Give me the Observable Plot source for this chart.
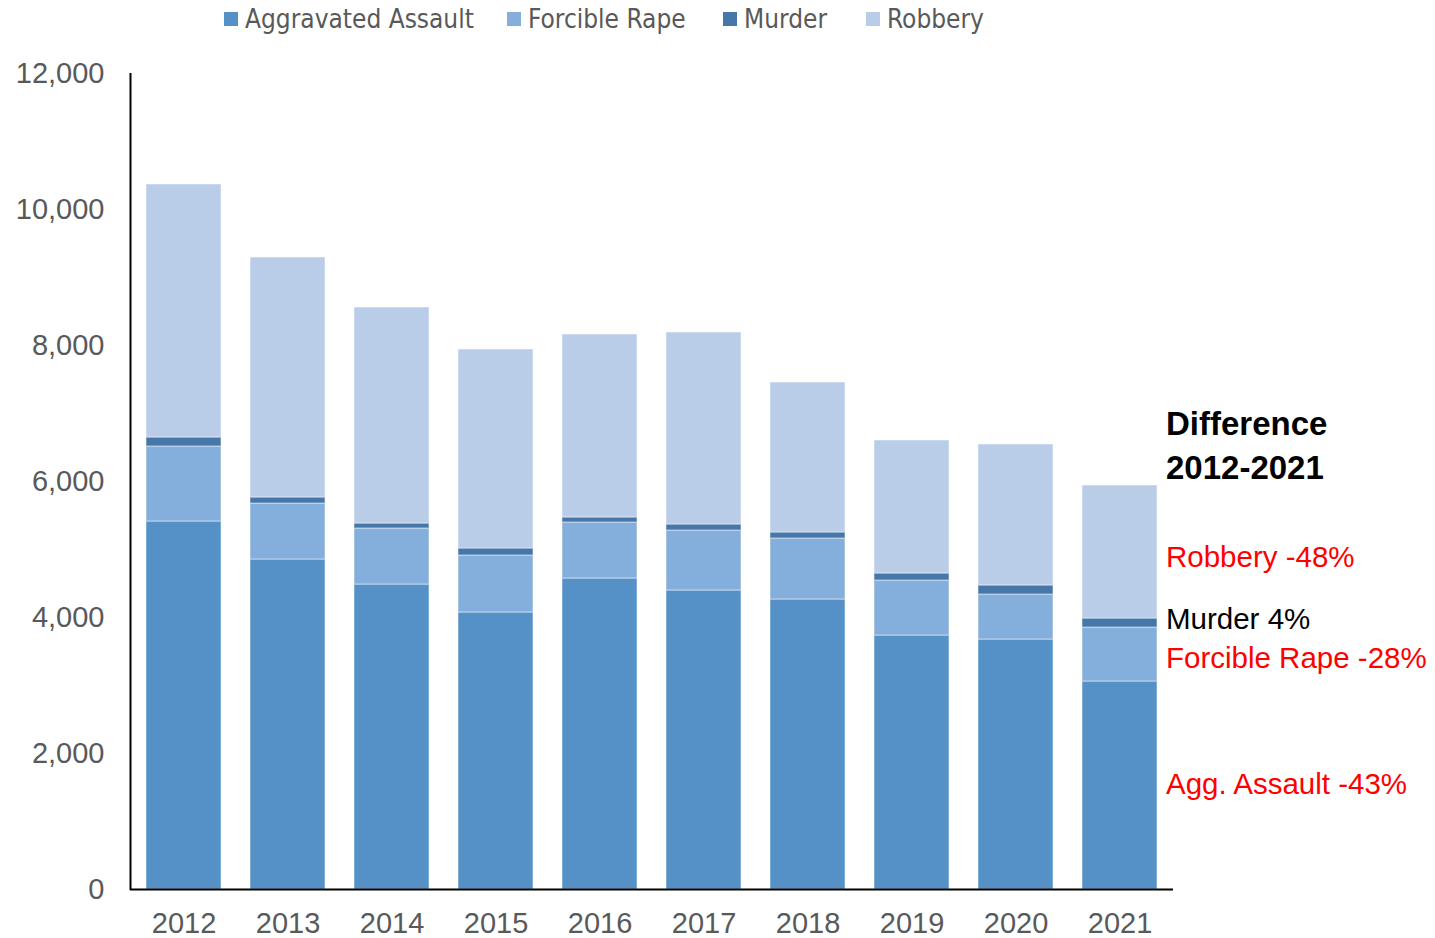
<!DOCTYPE html>
<html>
<head>
<meta charset="utf-8">
<script src="https://cdn.jsdelivr.net/npm/d3@7"></script>
<script src="https://cdn.jsdelivr.net/npm/@observablehq/plot@0.6"></script>
<style>
  html, body { margin: 0; padding: 0; background: #fff; }
  #legend { height: 40px; position: relative; font-family: "Liberation Sans Narrow", "DejaVu Sans Condensed", "Liberation Sans", sans-serif; font-stretch: condensed; font-size: 26px; color: #595959; }
  #legend .item { position: absolute; top: 4px; display: flex; align-items: center; white-space: nowrap; }
  #legend .sw { width: 14px; height: 14px; margin-right: 7px; }
  #chart { display: block; }
</style>
</head>
<body>
<div id="legend"></div>
<div id="chart"></div>
<script>
const years = ["2012","2013","2014","2015","2016","2017","2018","2019","2020","2021"];
const seriesNames = ["Aggravated Assault","Forcible Rape","Murder","Robbery"];
const seriesColors = ["#5591c7","#84aedb","#4677a8","#b9cde8"];
const aggravatedAssault = [5412,4853,4485,4074,4574,4397,4265,3735,3676,3059];
const forcibleRape      = [1103, 823, 824, 838, 823, 882, 897, 809, 662, 794];
const murder            = [ 132,  89,  73, 103,  74,  89,  88, 103, 133, 132];
const robbery           = [3721,3529,3177,2926,2691,2823,2206,1956,2073,1956];
const yTicks = [0,2000,4000,6000,8000,10000,12000];
const legendLeft = [224, 507, 723, 866];
const noteLines = ["Difference","2012-2021"];
const noteLinesY = [6840, 6190];
const noteLabels = ["Robbery -48%","Murder 4%","Forcible Rape -28%","Agg. Assault -43%"];
const noteY = [4880, 3970, 3390, 1550];
const noteColors = ["#ff0000","#000000","#ff0000","#ff0000"];

const seriesValues = [aggravatedAssault, forcibleRape, murder, robbery];
const data = [];
years.forEach((yr, i) => {
  seriesNames.forEach((s, j) => data.push({year: yr, series: s, value: seriesValues[j][i]}));
});

// legend
const legend = document.getElementById("legend");
seriesNames.forEach((s, j) => {
  const it = document.createElement("div");
  it.className = "item";
  it.style.left = legendLeft[j] + "px";
  it.innerHTML = `<span class="sw" style="background:${seriesColors[j]}"></span><span>${s}</span>`;
  legend.appendChild(it);
});

const notes = noteLabels.map((t, i) => ({text: t, y: noteY[i], color: noteColors[i]}));
const heads = noteLines.map((t, i) => ({text: t, y: noteLinesY[i]}));

const fontFam = "'Liberation Sans', Arial, sans-serif";
const chart = Plot.plot({
  width: 1435,
  height: 898,
  marginLeft: 130,
  marginRight: 262,
  marginTop: 33,
  marginBottom: 49,
  style: {fontFamily: fontFam, fontSize: "29px", color: "#595959", background: "#fff", overflow: "visible"},
  x: {domain: years, paddingInner: 0.28, paddingOuter: 0.14, label: null, tickSize: 0, tickPadding: 23},
  y: {domain: [0, 12000], ticks: yTicks, tickFormat: d3.format(","), label: null, tickSize: 0, tickPadding: 26},
  color: {domain: seriesNames, range: seriesColors},
  marks: [
    Plot.barY(data, {x: "year", y: "value", fill: "series", stroke: "#fff", strokeOpacity: 0.5, strokeWidth: 1}),
    Plot.ruleY([0], {stroke: "#000", strokeWidth: 2}),
    Plot.text(heads, {x: () => "2021", dx: 46, y: "y", text: "text", textAnchor: "start", fill: "#000", fontSize: 33, fontWeight: "bold"}),
    Plot.text(notes, {x: () => "2021", dx: 46, y: "y", text: "text", textAnchor: "start", fill: "color", fontSize: 29.5})
  ]
});
// y axis line
const svg = d3.select(chart);
svg.append("line").attr("x1", 130.5).attr("x2", 130.5).attr("y1", 33).attr("y2", 850).attr("stroke", "#000").attr("stroke-width", 2);
document.getElementById("chart").appendChild(chart);
</script>
</body>
</html>
